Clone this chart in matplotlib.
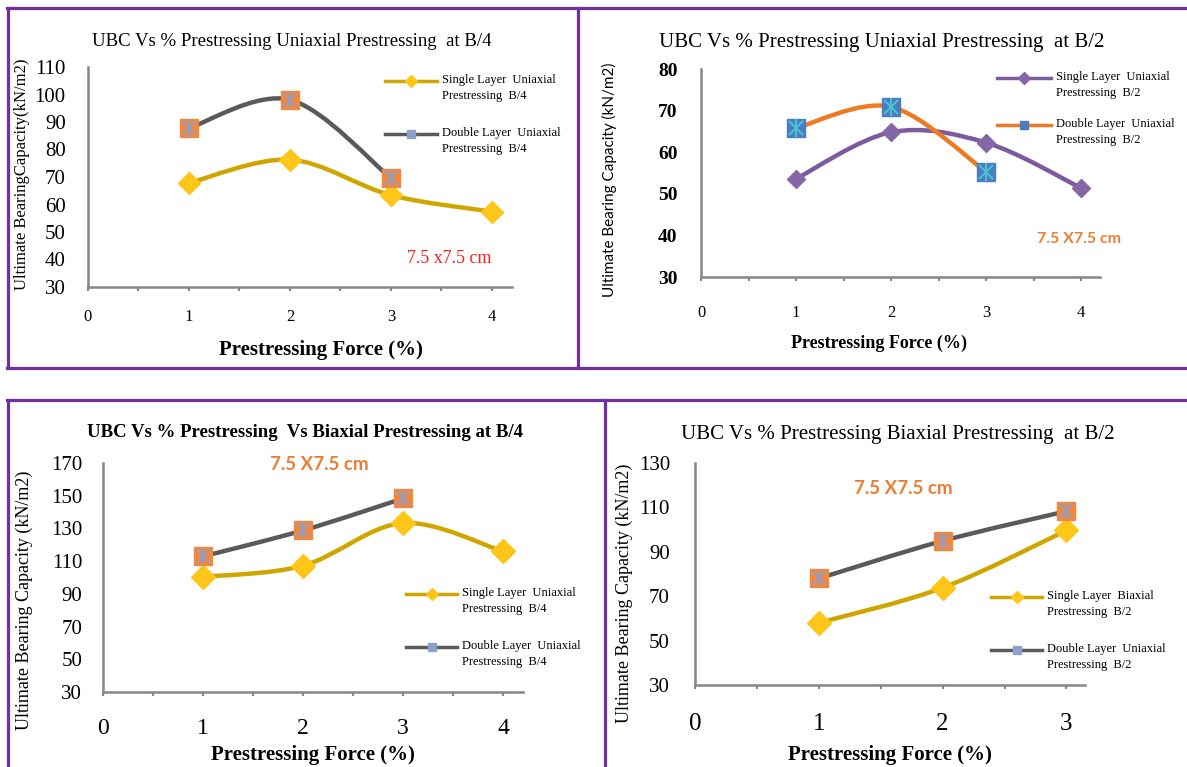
import matplotlib
matplotlib.use('Agg')
import matplotlib.pyplot as plt
import numpy as np
from matplotlib.path import Path
from matplotlib.patches import PathPatch
from matplotlib.lines import Line2D

W, H = 1187, 767

# prestressing force (%)
force_4 = [1, 2, 3, 4]
force_3 = [1, 2, 3]

# ultimate bearing capacity (kN/m2)
uni_b4_single = [67.8, 76.3, 63.4, 57.4]
uni_b4_double = [87.8, 98.1, 69.6]
uni_b2_single = [53.6, 64.8, 62.3, 51.4]
uni_b2_double = [65.8, 70.9, 55.3]
bi_b4_single = [100.4, 107.2, 133.3, 115.9]
bi_b4_double = [112.9, 128.8, 148.3]
bi_b2_single = [58.0, 73.8, 99.6]
bi_b2_double = [78.0, 94.9, 108.3]

SERIF = 'Liberation Serif'
SANS = 'Lato'
GOLD_LINE, GOLD_MK = '#CFA500', '#FFC61A'
GREY_LINE, ORANGE_MK, STAR = '#5A5A5A', '#F5873A', '#8FA0C8'
PURPLE_LINE, PURPLE_MK = '#7B5A9E', '#8567A8'
ORANGE_LINE, BLUE_MK, CYAN = '#EE7A22', '#4A7FBF', '#4BC3D2'
AX_GREY = '#868686'
BORDER = '#7030A0'

fig = plt.figure(figsize=(W / 100, H / 100), dpi=100)


def fx(x):
    return x / W


def fy(y):
    return 1 - y / H


def px_axes(x0, top, x1, bottom):
    ax = fig.add_axes([fx(x0), fy(bottom), (x1 - x0) / W, (bottom - top) / H])
    ax.patch.set_alpha(0)
    return ax


def smooth_path(x, y):
    # excel-style smoothed line: cubic bezier through every point
    pts = np.column_stack([x, y]).astype(float)
    n = len(pts)
    verts = [pts[0]]
    codes = [Path.MOVETO]
    for i in range(n - 1):
        p0 = pts[max(i - 1, 0)]
        p1 = pts[i]
        p2 = pts[i + 1]
        p3 = pts[min(i + 2, n - 1)]
        verts += [p1 + (p2 - p0) / 6, p2 - (p3 - p1) / 6, p2]
        codes += [Path.CURVE4] * 3
    return Path(verts, codes)


def draw_series(ax, x, y, line_color, marker, ms, face, star=None):
    ax.add_patch(PathPatch(smooth_path(x, y), fill=False, edgecolor=line_color,
                           lw=3.2, capstyle='round', joinstyle='round', zorder=3))
    ax.plot(x, y, ls='none', marker=marker, ms=ms, mfc=face, mec=face,
            zorder=4, clip_on=False)
    if star:
        ax.plot(x, y, ls='none', marker='x', ms=ms * 0.85, mec=star, mew=1.4,
                zorder=5, clip_on=False)
        ax.plot(x, y, ls='none', marker='|', ms=ms, mec=star, mew=1.4,
                zorder=5, clip_on=False)


def style_axes(ax, xmax, ylo, yhi, ystep, xticks, ysize, ypad, yweight,
               xsize, xpad):
    ax.set_xlim(0, xmax)
    ax.set_ylim(ylo, yhi)
    for s in ['top', 'right']:
        ax.spines[s].set_visible(False)
    for s in ['left', 'bottom']:
        ax.spines[s].set_color(AX_GREY)
        ax.spines[s].set_linewidth(1.8)
    ax.set_xticks(xticks)
    ax.set_xticks(np.arange(0.5, xmax, 1), minor=True)
    ax.set_yticks(np.arange(ylo, yhi + 1, ystep))
    ax.tick_params(axis='x', which='both', direction='out', length=3,
                   width=1.5, color=AX_GREY, pad=xpad)
    ax.tick_params(axis='y', length=0, pad=ypad)
    for lab in ax.get_xticklabels():
        lab.set_fontfamily(SERIF)
        lab.set_fontsize(xsize)
    for lab in ax.get_yticklabels():
        lab.set_fontfamily(SERIF)
        lab.set_fontsize(ysize)
        lab.set_fontweight(yweight)


def legend_entry(x0, x1, y, color, marker, ms, face, text):
    fig.add_artist(Line2D([fx(x0), fx(x1)], [fy(y), fy(y)], color=color,
                          lw=2.5, transform=fig.transFigure))
    fig.add_artist(Line2D([fx((x0 + x1) / 2)], [fy(y)], marker=marker, ms=ms,
                          mfc=face, mec=face, transform=fig.transFigure))
    fig.text(fx(x1 + 5), fy(y - 7), text, family=SERIF, fontsize=9,
             va='top', ha='left', linespacing=1.45)


# panel borders
for (xa, ya, xb, yb) in [(7, 8, 1187, 8), (7, 368, 1187, 368),
                         (8, 8, 8, 368), (578, 8, 578, 368),
                         (7, 400, 1187, 400), (8, 400, 8, 767),
                         (605, 400, 605, 767)]:
    fig.add_artist(Line2D([fx(xa), fx(xb)], [fy(ya), fy(yb)], color=BORDER,
                          lw=2.3, transform=fig.transFigure))

# uniaxial at B/4
ax1 = px_axes(88, 67, 512, 287)
draw_series(ax1, force_4, uni_b4_single, GOLD_LINE, 'D', 11, GOLD_MK)
draw_series(ax1, force_3, uni_b4_double, GREY_LINE, 's', 12.5, ORANGE_MK, STAR)
style_axes(ax1, 4.2, 30, 110, 10, range(5), 15, 16, 'normal', 12, 13)
fig.text(fx(292), fy(42), 'UBC Vs % Prestressing Uniaxial Prestressing  at B/4',
         family=SERIF, fontsize=13.5, ha='center', va='center')
fig.text(fx(22), fy(174), 'Ultimate BearingCapacity(kN/m2)', family=SERIF,
         fontsize=12, rotation=90, ha='center', va='center')
fig.text(fx(321), fy(350), 'Prestressing Force (%)', family=SERIF,
         fontsize=15, weight='bold', ha='center', va='center')
fig.text(fx(449), fy(258), '7.5 x7.5 cm', family=SERIF, fontsize=13,
         color='#FF1A1A', ha='center', va='center')
legend_entry(385, 437, 81, GOLD_LINE, 'D', 6, GOLD_MK,
             'Single Layer  Uniaxial\nPrestressing  B/4')
legend_entry(385, 437, 134, GREY_LINE, 's', 5.5, STAR,
             'Double Layer  Uniaxial\nPrestressing  B/4')

# uniaxial at B/2
ax2 = px_axes(701, 69, 1100, 277)
draw_series(ax2, force_4, uni_b2_single, PURPLE_LINE, 'D', 9, PURPLE_MK)
draw_series(ax2, force_3, uni_b2_double, ORANGE_LINE, 's', 12.5, BLUE_MK, CYAN)
style_axes(ax2, 4.2, 30, 80, 10, range(5), 14, 17, 'bold', 12, 17)
fig.text(fx(882), fy(43), 'UBC Vs % Prestressing Uniaxial Prestressing  at B/2',
         family=SERIF, fontsize=15, ha='center', va='center')
fig.text(fx(609), fy(180), 'Ultimate Bearing Capacity (kN/m2)', family=SANS,
         fontsize=11, rotation=90, ha='center', va='center')
fig.text(fx(879), fy(343), 'Prestressing Force (%)', family=SERIF,
         fontsize=13, weight='bold', ha='center', va='center')
fig.text(fx(1079), fy(239), '7.5 X7.5 cm', family=SANS, fontsize=11.5,
         weight='bold', color='#ED7D31', ha='center', va='center')
legend_entry(997, 1051, 78, PURPLE_LINE, 'D', 6, PURPLE_MK,
             'Single Layer  Uniaxial\nPrestressing  B/2')
legend_entry(997, 1051, 125, ORANGE_LINE, 's', 5.5, BLUE_MK,
             'Double Layer  Uniaxial\nPrestressing  B/2')

# biaxial at B/4
ax3 = px_axes(103, 463, 523, 692)
draw_series(ax3, force_4, bi_b4_single, GOLD_LINE, 'D', 12, GOLD_MK)
draw_series(ax3, force_3, bi_b4_double, GREY_LINE, 's', 12.5, ORANGE_MK, STAR)
style_axes(ax3, 4.2, 30, 170, 20, range(5), 15, 15, 'normal', 17, 16)
fig.text(fx(305), fy(433), 'UBC Vs % Prestressing  Vs Biaxial Prestressing at B/4',
         family=SERIF, fontsize=13.5, weight='bold', ha='center', va='center')
fig.text(fx(24), fy(600), 'Ultimate Bearing Capacity (kN/m2)', family=SERIF,
         fontsize=13, rotation=90, ha='center', va='center')
fig.text(fx(313), fy(755), 'Prestressing Force (%)', family=SERIF,
         fontsize=15, weight='bold', ha='center', va='center')
fig.text(fx(319), fy(464), '7.5 X7.5 cm', family=SANS, fontsize=13.5,
         weight='bold', color='#ED7D31', ha='center', va='center')
legend_entry(406, 457, 594, GOLD_LINE, 'D', 6, GOLD_MK,
             'Single Layer  Uniaxial\nPrestressing  B/4')
legend_entry(406, 457, 647, GREY_LINE, 's', 5.5, STAR,
             'Double Layer  Uniaxial\nPrestressing  B/4')

# biaxial at B/2
ax4 = px_axes(695, 463, 1085, 685)
draw_series(ax4, force_3, bi_b2_single, GOLD_LINE, 'D', 12, GOLD_MK)
draw_series(ax4, force_3, bi_b2_double, GREY_LINE, 's', 12.5, ORANGE_MK, STAR)
style_axes(ax4, 3.15, 30, 130, 20, range(4), 15, 18, 'normal', 18, 17)
fig.text(fx(898), fy(434), 'UBC Vs % Prestressing Biaxial Prestressing  at B/2',
         family=SERIF, fontsize=15, ha='center', va='center')
fig.text(fx(624), fy(593), 'Ultimate Bearing Capacity (kN/m2)', family=SERIF,
         fontsize=13, rotation=90, ha='center', va='center')
fig.text(fx(890), fy(755), 'Prestressing Force (%)', family=SERIF,
         fontsize=15, weight='bold', ha='center', va='center')
fig.text(fx(903), fy(489), '7.5 X7.5 cm', family=SANS, fontsize=13.5,
         weight='bold', color='#ED7D31', ha='center', va='center')
legend_entry(991, 1042, 597, GOLD_LINE, 'D', 6, GOLD_MK,
             'Single Layer  Biaxial\nPrestressing  B/2')
legend_entry(991, 1042, 650, GREY_LINE, 's', 5.5, STAR,
             'Double Layer  Uniaxial\nPrestressing  B/2')

fig.savefig('out.png', dpi=100)
